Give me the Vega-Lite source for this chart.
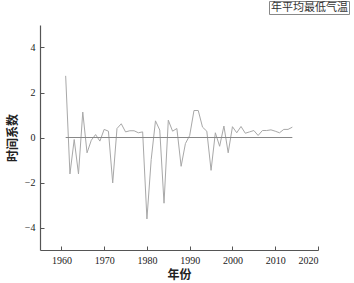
{
  "$schema": "https://vega.github.io/schema/vega-lite/v6.json",
  "autosize": "none",
  "padding": {"left": 40, "top": 25, "right": 36, "bottom": 33},
  "width": 278,
  "height": 225,
  "background": "white",
  "config": {
    "view": {"stroke": null},
    "axis": {
      "grid": false,
      "domainColor": "#555555",
      "domainWidth": 1.2,
      "tickColor": "#555555",
      "labelColor": "#222222",
      "labelFont": "Liberation Serif, Times New Roman, serif",
      "labelFontSize": 10,
      "titleFont": "Noto Sans CJK SC",
      "titleFontSize": 12,
      "titleFontWeight": "bold",
      "titleColor": "#222222"
    }
  },
  "layer": [
    {
      "data": {"values": [
        {"year": 1961, "v": 2.74}, {"year": 1962, "v": -1.62}, {"year": 1963, "v": -0.09}, {"year": 1964, "v": -1.62},
        {"year": 1965, "v": 1.13}, {"year": 1966, "v": -0.68}, {"year": 1967, "v": -0.12}, {"year": 1968, "v": 0.13},
        {"year": 1969, "v": -0.16}, {"year": 1970, "v": 0.36}, {"year": 1971, "v": 0.28}, {"year": 1972, "v": -2.02},
        {"year": 1973, "v": 0.40}, {"year": 1974, "v": 0.61}, {"year": 1975, "v": 0.25}, {"year": 1976, "v": 0.30},
        {"year": 1977, "v": 0.30}, {"year": 1978, "v": 0.21}, {"year": 1979, "v": 0.25}, {"year": 1980, "v": -3.62},
        {"year": 1981, "v": -0.98}, {"year": 1982, "v": 0.74}, {"year": 1983, "v": 0.33}, {"year": 1984, "v": -2.92},
        {"year": 1985, "v": 0.77}, {"year": 1986, "v": 0.28}, {"year": 1987, "v": 0.40}, {"year": 1988, "v": -1.28},
        {"year": 1989, "v": -0.27}, {"year": 1990, "v": 0.09}, {"year": 1991, "v": 1.2}, {"year": 1992, "v": 1.2},
        {"year": 1993, "v": 0.46}, {"year": 1994, "v": 0.28}, {"year": 1995, "v": -1.46}, {"year": 1996, "v": 0.21},
        {"year": 1997, "v": -0.39}, {"year": 1998, "v": 0.51}, {"year": 1999, "v": -0.68}, {"year": 2000, "v": 0.48},
        {"year": 2001, "v": 0.21}, {"year": 2002, "v": 0.49}, {"year": 2003, "v": 0.19}, {"year": 2004, "v": 0.25},
        {"year": 2005, "v": 0.31}, {"year": 2006, "v": 0.09}, {"year": 2007, "v": 0.31}, {"year": 2008, "v": 0.31},
        {"year": 2009, "v": 0.34}, {"year": 2010, "v": 0.28}, {"year": 2011, "v": 0.21}, {"year": 2012, "v": 0.36},
        {"year": 2013, "v": 0.36}, {"year": 2014, "v": 0.46}
      ]},
      "mark": {"type": "line", "strokeWidth": 1, "color": "#a8a8a8"},
      "encoding": {
        "x": {
          "field": "year", "type": "quantitative",
          "scale": {"domain": [1955, 2020], "nice": false, "zero": false},
          "axis": {
            "title": "年份",
            "format": "d",
            "values": [1960, 1970, 1980, 1990, 2000, 2010, 2020],
            "tickSize": -4,
            "labelPadding": 9,
            "titlePadding": 4
          }
        },
        "y": {
          "field": "v", "type": "quantitative",
          "scale": {"domain": [-5, 5], "nice": false},
          "axis": {
            "title": "时间系数",
            "values": [-4, -2, 0, 2, 4],
            "tickSize": -4,
            "labelPadding": 9,
            "titlePadding": 5
          }
        },
        "color": {
          "datum": "年平均最低气温",
          "type": "nominal",
          "scale": {"range": ["#a8a8a8"]},
          "legend": {
            "title": null,
            "orient": "none",
            "legendX": 229,
            "legendY": -24,
            "strokeColor": "#888888",
            "padding": 1,
            "symbolSize": 0,
            "symbolStrokeWidth": 0,
            "symbolOpacity": 0,
            "labelOffset": -10,
            "labelFont": "Noto Sans CJK SC",
            "labelFontSize": 11,
            "labelColor": "#333333"
          }
        }
      }
    },
    {
      "data": {"values": [{"year": 1961, "v": 0}, {"year": 2014, "v": 0}]},
      "mark": {"type": "line", "strokeWidth": 1, "color": "#888888"},
      "encoding": {
        "x": {"field": "year", "type": "quantitative"},
        "y": {"field": "v", "type": "quantitative"}
      }
    }
  ]
}
